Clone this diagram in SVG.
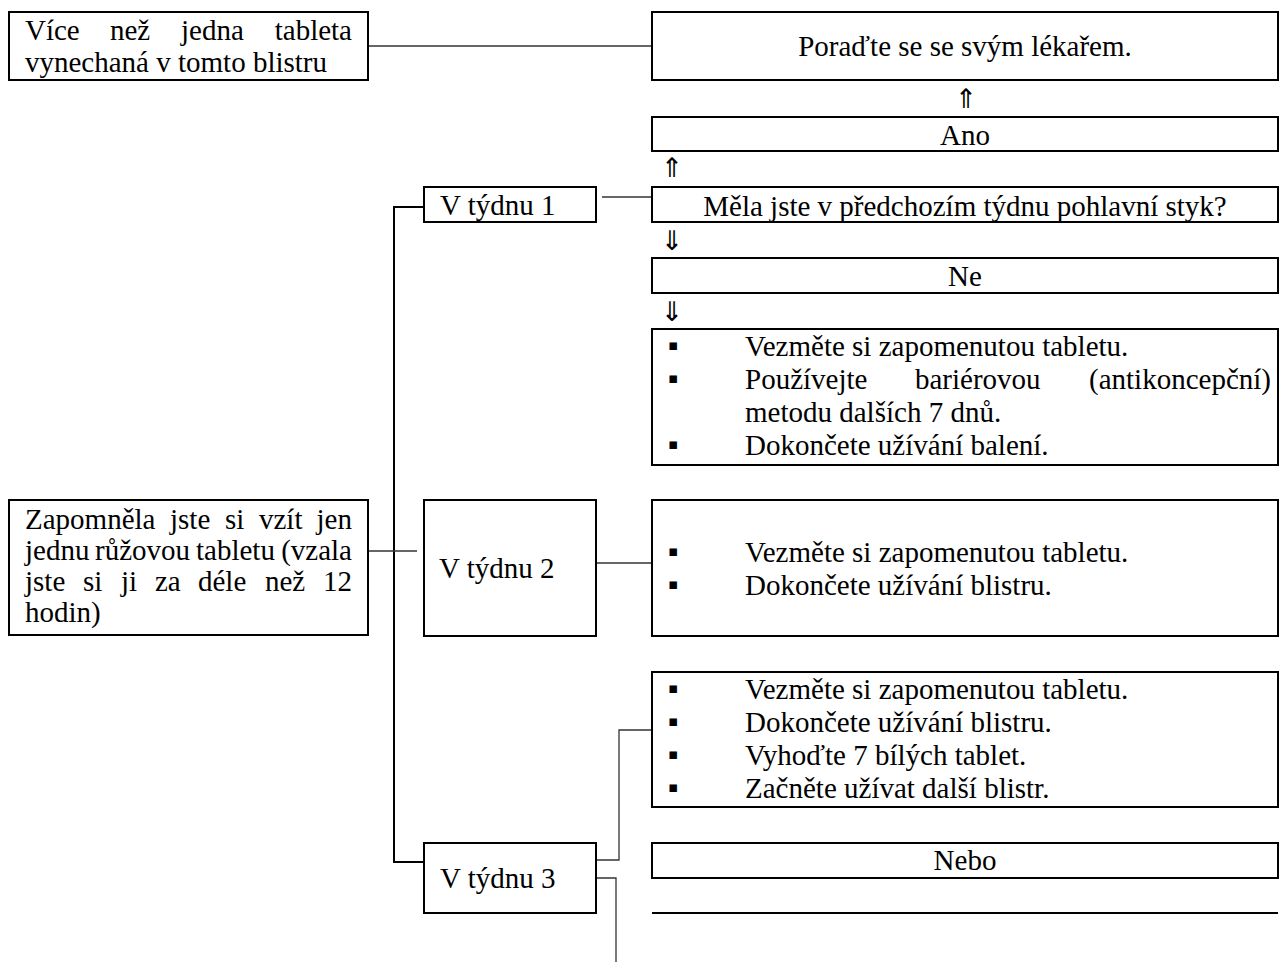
<svg xmlns="http://www.w3.org/2000/svg" width="1280" height="966" viewBox="0 0 1280 966">
<style>
.box{fill:#fff;stroke:#000;stroke-width:2}
.t{font-family:"Liberation Serif","Times New Roman",serif;font-size:29px;fill:#000}
.c{text-anchor:middle}
.e{text-anchor:end}
.ar{font-family:"DejaVu Sans",sans-serif;font-size:27px;fill:#000;text-anchor:middle}
.bl{font-family:"DejaVu Sans",sans-serif;font-size:15px;fill:#000;text-anchor:middle}
.ln{fill:none;stroke:#333;stroke-width:1.3}
.br{fill:none;stroke:#000;stroke-width:2}
</style>
<rect width="1280" height="966" fill="#fff"/>
<g id="connectors">
<line class="ln" x1="368" y1="46" x2="652" y2="46"/>
<line class="ln" x1="602" y1="197" x2="652" y2="197"/>
<polyline class="br" points="424,207 394,207 394,862 424,862"/>
<line class="ln" x1="368" y1="551" x2="417" y2="551"/>
<line class="ln" x1="597" y1="563" x2="652" y2="563"/>
<polyline class="ln" points="597,860 619,860 619,730 652,730"/>
<polyline class="ln" points="597,878 616,878 616,962"/>
<text class="ar" x="966" y="108">⇑</text>
<text class="ar" x="672" y="177">⇑</text>
<text class="ar" x="672" y="250">⇓</text>
<text class="ar" x="672" y="321">⇓</text>
</g>
<g id="n-more">
<rect class="box" x="9" y="12" width="359" height="68"/>
<text class="t" y="40"><tspan x="25">Více</tspan><tspan x="110">než</tspan><tspan x="181">jedna</tspan></text>
<text class="t e" x="352" y="40">tableta</text>
<text class="t" x="25" y="72">vynechaná v tomto blistru</text>
</g>
<g id="n-doctor">
<rect class="box" x="652" y="12" width="626" height="68"/>
<text class="t c" x="965" y="56">Poraďte se se svým lékařem.</text>
</g>
<g id="n-ano">
<rect class="box" x="652" y="117" width="626" height="34"/>
<text class="t c" x="965" y="145">Ano</text>
</g>
<g id="n-question">
<rect class="box" x="652" y="187" width="626" height="35"/>
<text class="t c" x="965" y="216">Měla jste v předchozím týdnu pohlavní styk?</text>
</g>
<g id="n-week1">
<rect class="box" x="424" y="187" width="172" height="35"/>
<text class="t" x="440" y="215">V týdnu 1</text>
</g>
<g id="n-ne">
<rect class="box" x="652" y="258" width="626" height="35"/>
<text class="t c" x="965" y="286">Ne</text>
</g>
<g id="n-steps1">
<rect class="box" x="652" y="329" width="626" height="136"/>
<text class="bl" x="673" y="350">▪</text>
<text class="bl" x="673" y="383">▪</text>
<text class="bl" x="673" y="449">▪</text>
<text class="t" x="745" y="356">Vezměte si zapomenutou tabletu.</text>
<text class="t" y="389"><tspan x="745">Používejte</tspan><tspan x="915">bariérovou</tspan></text>
<text class="t e" x="1271" y="389">(antikoncepční)</text>
<text class="t" x="745" y="422">metodu dalších 7 dnů.</text>
<text class="t" x="745" y="455">Dokončete užívání balení.</text>
</g>
<g id="n-forgot">
<rect class="box" x="9" y="500" width="359" height="135"/>
<text class="t" y="529"><tspan x="25">Zapomněla</tspan><tspan x="170">jste</tspan><tspan x="225">si</tspan><tspan x="259">vzít</tspan></text>
<text class="t e" x="352" y="529">jen</text>
<text class="t" y="560"><tspan x="25">jednu</tspan><tspan x="95">růžovou</tspan><tspan x="196">tabletu</tspan></text>
<text class="t e" x="352" y="560">(vzala</text>
<text class="t" y="591"><tspan x="25">jste</tspan><tspan x="83">si</tspan><tspan x="121">ji</tspan><tspan x="155">za</tspan><tspan x="198">déle</tspan><tspan x="265">než</tspan></text>
<text class="t e" x="352" y="591">12</text>
<text class="t" x="25" y="622">hodin)</text>
</g>
<g id="n-week2">
<rect class="box" x="424" y="500" width="172" height="136"/>
<text class="t" x="439" y="578">V týdnu 2</text>
</g>
<g id="n-steps2">
<rect class="box" x="652" y="500" width="626" height="136"/>
<text class="bl" x="673" y="556">▪</text>
<text class="bl" x="673" y="589">▪</text>
<text class="t" x="745" y="562">Vezměte si zapomenutou tabletu.</text>
<text class="t" x="745" y="595">Dokončete užívání blistru.</text>
</g>
<g id="n-week3">
<rect class="box" x="424" y="843" width="172" height="70"/>
<text class="t" x="440" y="888">V týdnu 3</text>
</g>
<g id="n-steps3">
<rect class="box" x="652" y="672" width="626" height="135"/>
<text class="bl" x="673" y="693">▪</text>
<text class="bl" x="673" y="726">▪</text>
<text class="bl" x="673" y="759">▪</text>
<text class="bl" x="673" y="792">▪</text>
<text class="t" x="745" y="699">Vezměte si zapomenutou tabletu.</text>
<text class="t" x="745" y="732">Dokončete užívání blistru.</text>
<text class="t" x="745" y="765">Vyhoďte 7 bílých tablet.</text>
<text class="t" x="745" y="798">Začněte užívat další blistr.</text>
</g>
<g id="n-nebo">
<rect class="box" x="652" y="843" width="626" height="35"/>
<text class="t c" x="965" y="870">Nebo</text>
</g>
<g id="n-line">
<line class="br" x1="652" y1="913" x2="1278" y2="913"/>
</g>
</svg>
